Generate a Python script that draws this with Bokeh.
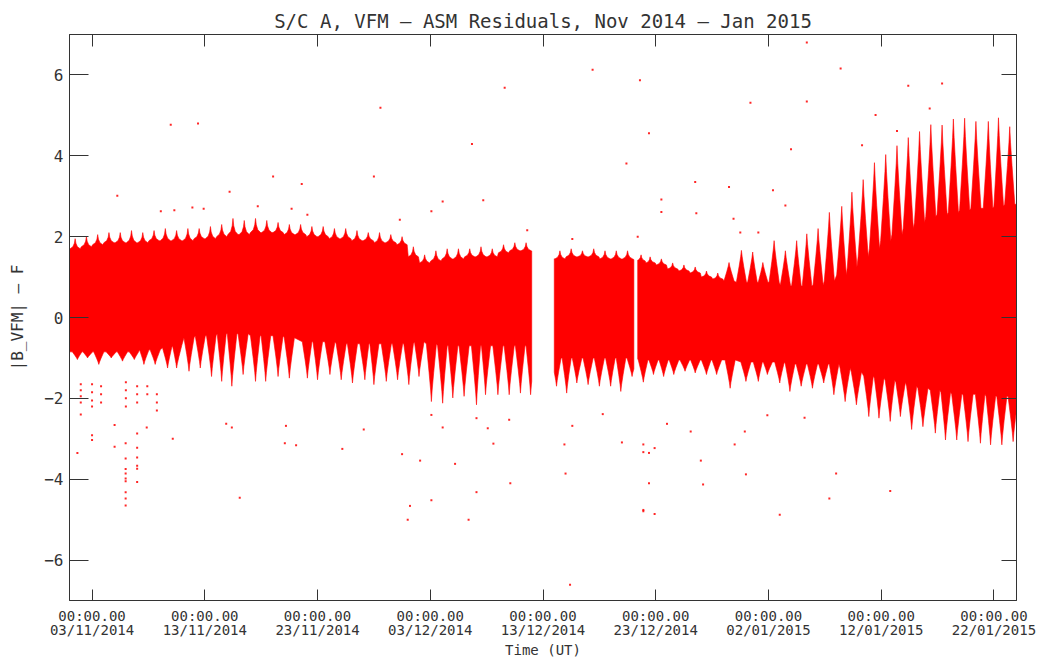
import numpy as np
from datetime import datetime, timezone
from bokeh.plotting import figure
from bokeh.models import FixedTicker, DatetimeAxis, LinearAxis, Range1d
from bokeh.embed import file_html
from bokeh.resources import INLINE

# ---------------- data (days since 01/11/2014 00:00 UT) ----------------
START = datetime(2014, 11, 1, tzinfo=timezone.utc)
END = datetime(2015, 1, 24, tzinfo=timezone.utc)

# contiguous stretches of data (gaps in between)
SEG_START = [0.0, 43.0, 50.4]
SEG_END = [41.0, 50.06, 84.0]

# lower envelope: daily spike times, spike minimum, level between spikes
LOW_T = [0.7, 1.6, 2.6, 3.7, 4.7, 5.75, 6.6, 7.6, 8.7, 9.5, 10.6, 11.6, 12.6, 13.5, 14.4, 15.4, 16.5, 17.4, 18.5, 19.5,
         21.1, 22.0, 23.1, 24.1, 25.1, 26.2, 27.0, 28.1, 29.1, 30.1, 31.0, 32.1, 33.1, 34.0, 35.0, 36.1, 36.9, 38.0, 39.0, 40.0, 40.9,
         43.2, 44.1, 45.0, 46.0, 47.0, 48.0, 48.9, 49.9, 50.9, 51.8, 52.7, 53.6, 54.6, 55.5, 56.5, 57.4, 58.6, 60.0, 61.1, 61.9, 63.0,
         63.9, 64.9, 65.9, 66.9, 67.8, 68.8, 69.8, 70.9, 71.8, 72.8, 73.7, 74.7, 75.7, 76.8, 77.7, 78.7, 79.7, 80.8, 81.7, 82.7, 83.7]
LOW_TIP = [-1.04, -1.0, -1.16, -1.0, -1.08, -1.04, -1.16, -1.16, -1.25, -1.25, -1.33, -1.25, -1.46, -1.58, -1.70, -1.41, -1.58, -1.58, -1.46, -1.5,
           -1.5, -1.54, -1.41, -1.54, -1.62, -1.54, -1.66, -1.58, -1.54, -1.66, -1.46, -2.08, -2.12, -1.99, -1.95, -2.16, -1.91, -1.91, -1.91, -1.87, -1.91,
           -1.70, -1.87, -1.62, -1.66, -1.70, -1.70, -1.83, -1.46, -1.6, -1.41, -1.46, -1.41, -1.33, -1.37, -1.41, -1.41, -1.75, -1.58, -1.58, -1.41, -1.62,
           -1.83, -1.70, -1.75, -1.62, -1.91, -2.08, -2.16, -2.45, -2.49, -2.57, -2.45, -2.77, -2.7, -2.86, -3.03, -3.03, -3.07, -3.11, -3.15, -3.15, -3.07]
LOW_BASE = [-0.85, -0.85, -0.85, -0.85, -0.85, -0.85, -0.8, -0.8, -0.75, -0.7, -0.5, -0.45, -0.45, -0.4, -0.4, -0.4, -0.45, -0.45, -0.45, -0.5,
            -0.6, -0.6, -0.6, -0.65, -0.65, -0.65, -0.65, -0.65, -0.65, -0.65, -0.6, -0.65, -0.7, -0.7, -0.7, -0.7, -0.7, -0.7, -0.7, -0.7, -0.7,
            -1.0, -1.0, -1.0, -1.0, -1.0, -1.0, -1.0, -1.0, -1.05, -1.05, -1.05, -1.05, -1.05, -1.05, -1.05, -1.05, -1.05, -1.1, -1.1, -1.1, -1.1,
            -1.15, -1.15, -1.15, -1.15, -1.15, -1.25, -1.35, -1.45, -1.5, -1.55, -1.6, -1.7, -1.75, -1.8, -1.85, -1.9, -1.9, -1.9, -1.95, -1.95, -1.95]

# upper envelope: spike times, spike maximum, level between spikes
UP_T = [0.5, 1.5, 2.5, 3.5, 4.5, 5.5, 6.5, 7.5, 8.5, 9.5, 10.5, 11.5, 12.5, 13.5, 14.5, 15.5, 16.5, 17.5, 18.5, 19.5,
        20.5, 21.5, 22.5, 23.5, 24.5, 25.5, 26.5, 27.5, 28.5, 29.5, 30.5, 31.5, 32.5, 33.5, 34.5, 35.5, 36.5, 37.5, 38.5, 39.5, 40.5,
        43.5, 44.5, 45.5, 46.5, 47.5, 48.5, 49.5, 50.7, 51.5, 52.5, 53.5, 54.5, 55.5, 56.5, 57.5,
        58.5, 59.6, 60.6, 61.5, 62.5, 63.5, 64.5, 65.4, 66.4, 67.4, 68.5, 69.4, 70.4, 71.4, 72.4, 73.4, 74.4, 75.4,
        76.4, 77.4, 78.4, 79.4, 80.4, 81.5, 82.4, 83.4]
UP_TIP = [1.95, 2.0, 2.05, 2.1, 2.1, 2.15, 2.1, 2.15, 2.2, 2.15, 2.2, 2.2, 2.25, 2.3, 2.45, 2.4, 2.45, 2.4, 2.35, 2.3,
          2.3, 2.25, 2.25, 2.2, 2.2, 2.15, 2.1, 2.1, 2.05, 2.0, 1.75, 1.55, 1.65, 1.7, 1.7, 1.7, 1.75, 1.7, 1.8, 1.85, 1.85,
          1.65, 1.7, 1.65, 1.7, 1.65, 1.65, 1.65, 1.55, 1.5, 1.45, 1.35, 1.3, 1.25, 1.15, 1.1,
          1.36, 1.66, 1.62, 1.36, 1.9, 1.65, 1.9, 2.07, 2.2, 2.6, 2.75, 3.1, 3.41, 3.83, 4.03, 4.25, 4.45, 4.6,
          4.77, 4.76, 4.91, 4.93, 4.85, 4.85, 4.94, 4.72]
UP_BASE = [1.7, 1.75, 1.8, 1.85, 1.85, 1.85, 1.85, 1.9, 1.9, 1.9, 1.9, 1.95, 1.95, 2.0, 2.05, 2.05, 2.1, 2.1, 2.1, 2.05,
           2.05, 2.0, 2.0, 1.95, 1.95, 1.9, 1.9, 1.85, 1.85, 1.8, 1.5, 1.35, 1.4, 1.45, 1.45, 1.5, 1.5, 1.5, 1.6, 1.65, 1.65,
           1.45, 1.5, 1.5, 1.5, 1.45, 1.45, 1.45, 1.4, 1.35, 1.3, 1.2, 1.15, 1.1, 1.0, 0.95,
           0.9, 0.87, 0.87, 0.87, 0.87, 0.8, 0.78, 0.78, 0.8, 0.9, 1.05, 1.25, 1.5, 1.7, 1.9, 2.05, 2.2, 2.35,
           2.5, 2.55, 2.6, 2.65, 2.7, 2.7, 2.75, 2.8]

# isolated samples away from the band
OUT_T = [8.98, 11.4, 27.58, 38.6, 35.7, 18.06, 27.0, 20.6, 14.2, 4.24, 33.1, 36.7, 32.1, 8.1, 9.3, 10.9, 11.9, 16.7, 19.7, 21.1, 29.3, 40.6,
         65.4, 46.4, 68.4, 50.6, 74.4, 77.4, 60.4, 65.4, 76.3, 51.4, 71.5, 64.0, 49.4, 55.5, 58.5, 52.5, 52.5, 55.6, 62.4, 63.5, 73.4, 70.3,
         44.6, 50.4, 58.9, 59.5, 61.1,
         4.98, 4.98, 4.98, 4.98, 4.98, 4.98, 4.98, 4.98, 4.98, 6.0, 6.0, 6.0, 6.0, 6.0, 6.0,
         0.7, 2.0, 2.0, 4.0, 4.0, 6.85, 9.16, 15.1, 13.9, 14.4, 19.2, 19.1, 20.1, 24.2, 29.5, 31.1, 34.2, 30.2, 30.0, 32.1,
         36.1, 35.4, 39.1, 37.6, 37.1, 26.1, 39.0, 36.1, 33.1, 32.1,
         44.4, 44.0, 43.9, 51.4, 50.9, 50.9, 51.9, 50.9, 50.9, 51.4, 51.9, 56.2, 56.0, 60.0, 63.0, 67.4, 68.0, 72.8, 49.0, 59.0,
         55.1, 59.9, 44.6, 53.0, 47.3, 61.9, 65.2,
         1.0, 1.0, 1.0, 1.0, 1.0, 2.0, 2.0, 2.0, 2.0, 2.8, 2.8, 2.8, 5.0, 5.0, 5.0, 5.0, 6.0, 6.0, 6.0, 6.9, 6.9, 7.75, 7.75, 7.75]
OUT_V = [4.77, 4.80, 5.19, 5.68, 4.29, 3.49, 3.49, 3.30, 3.11, 3.01, 2.87, 2.90, 2.63, 2.63, 2.65, 2.72, 2.69, 2.75, 2.69, 2.54, 2.42, 2.16,
         6.80, 6.13, 6.16, 5.87, 5.73, 5.79, 5.31, 5.34, 5.17, 4.56, 5.01, 4.16, 3.81, 3.35, 3.23, 2.92, 2.61, 2.58, 3.15, 2.77, 4.61, 4.26,
         1.94, 2.0, 2.44, 2.1, 2.1,
         -3.11, -3.49, -3.75, -3.86, -3.98, -4.05, -4.32, -4.48, -4.65, -2.87, -3.22, -3.46, -3.67, -3.74, -4.07,
         -3.35, -2.91, -3.03, -2.66, -3.2, -2.72, -3.0, -4.46, -2.63, -2.72, -2.68, -3.11, -3.16, -3.25, -3.38, -3.54, -3.62, -4.66, -5.0, -4.52,
         -4.32, -5.0, -4.1, -3.12, -2.74, -2.77, -2.53, -2.49, -2.72, -2.41,
         -6.61, -3.86, -3.14, -4.10, -4.76, -4.79, -4.86, -3.14, -3.33, -3.35, -3.23, -4.13, -3.54, -3.88, -4.88, -4.48, -3.86, -4.29, -3.09, -3.14,
         -2.82, -2.82, -2.68, -2.63, -2.39, -2.42, -2.48,
         -1.65, -1.8, -1.95, -2.1, -2.4, -1.65, -1.85, -2.05, -2.2, -1.7, -1.9, -2.1, -1.6, -1.8, -2.0, -2.2, -1.7, -1.9, -2.1, -1.7, -1.9, -1.9, -2.1, -2.3]

# axis ticks
X_TICK_DATES = ["03/11/2014", "13/11/2014", "23/11/2014", "03/12/2014", "13/12/2014",
                "23/12/2014", "02/01/2015", "12/01/2015", "22/01/2015"]
X_TICK_TIME = "00:00.00"
Y_TICKS = [-6, -4, -2, 0, 2, 4, 6]
Y_TICK_LABELS = ["\u22126", "\u22124", "\u22122", "0", "2", "4", "6"]

TITLE = "S/C A, VFM \u2013 ASM Residuals, Nov 2014 \u2013 Jan 2015"
Y_LABEL = "|B_VFM| \u2013 F"
X_LABEL = "Time (UT)"

# ---------------- helpers ----------------
DAY_MS = 86400000.0
START_MS = START.timestamp() * 1000.0
END_MS = END.timestamp() * 1000.0
NEEDLE_BEFORE = 58.0   # upper edge is needle-like before this day


def to_ms(days):
    return START_MS + np.asarray(days, dtype=float) * DAY_MS


def envelope(ts, tips, bases, needle_before=-1.0):
    ts = np.asarray(ts, float)
    offs = [-1.0, -0.45, -0.15, 0.0, 0.15, 0.45, 1.0]
    wedge = [0.0, 0.5, 0.8, 1.0, 0.8, 0.5, 0.0]
    needle = [0.0, 0.2, 0.55, 1.0, 0.55, 0.2, 0.0]
    X, Y = [], []
    n = len(ts)
    for i in range(n):
        gl = ts[i] - ts[i - 1] if i > 0 else 1.0
        gr = ts[i + 1] - ts[i] if i < n - 1 else 1.0
        wl = 0.45 * min(1.0, gl)
        wr = 0.45 * min(1.0, gr)
        depth = needle if ts[i] < needle_before else wedge
        for o, d in zip(offs, depth):
            w = wl if o < 0 else wr
            X.append(ts[i] + o * w)
            Y.append(bases[i] + d * (tips[i] - bases[i]))
    return np.array(X), np.array(Y)


UX, UY = envelope(UP_T, UP_TIP, UP_BASE, NEEDLE_BEFORE)
LX, LY = envelope(LOW_T, LOW_TIP, LOW_BASE)

band_xs, band_ys = [], []
for s, e in zip(SEG_START, SEG_END):
    ux = np.concatenate([[s], UX[(UX > s) & (UX < e)], [e]])
    lx = np.concatenate([[s], LX[(LX > s) & (LX < e)], [e]])
    uy = np.interp(ux, UX, UY)
    ly = np.interp(lx, LX, LY)
    band_xs.append(to_ms(np.concatenate([ux, lx[::-1]])))
    band_ys.append(np.concatenate([uy, ly[::-1]]))

# ---------------- figure ----------------
FONT = "DejaVu Sans Mono"
INK = "#333333"
AX = "#333333"

p = figure(width=1055, height=660, x_axis_type="datetime",
           x_range=Range1d(START_MS, END_MS), y_range=Range1d(-7, 7),
           output_backend="svg", toolbar_location=None,
           min_border_left=69, min_border_right=39, min_border_top=34, min_border_bottom=60)
p.grid.visible = False
p.background_fill_color = "white"
p.border_fill_color = "white"
p.outline_line_color = AX

p.title.text = TITLE
p.title.text_font = FONT
p.title.text_font_size = "19px"
p.title.text_font_style = "normal"
p.title.text_color = INK
p.title.align = "center"
p.title.standoff = 6

p.patches(band_xs, band_ys, fill_color="#ff0000", line_color="#ff0000", line_width=0.6)
p.scatter(to_ms(OUT_T), OUT_V, marker="square", size=2, fill_color="#ff0000",
          line_color=None, fill_alpha=0.85)

tick_ms = [int(round(datetime.strptime(d, "%d/%m/%Y").replace(tzinfo=timezone.utc).timestamp() * 1000))
           for d in X_TICK_DATES]
x_over = {t: X_TICK_TIME + "\n" + d for t, d in zip(tick_ms, X_TICK_DATES)}
y_over = {t: l for t, l in zip(Y_TICKS, Y_TICK_LABELS)}


def style_axis(ax, tick_in):
    ax.axis_line_color = AX
    ax.major_tick_line_color = AX
    ax.minor_tick_line_color = None
    ax.major_tick_in = tick_in
    ax.major_tick_out = 0
    ax.major_label_text_font = FONT
    ax.major_label_text_color = INK
    ax.axis_label_text_font = FONT
    ax.axis_label_text_color = INK
    ax.axis_label_text_font_style = "normal"


xa = p.xaxis[0]
xa.ticker = FixedTicker(ticks=tick_ms)
xa.major_label_overrides = x_over
style_axis(xa, 11)
xa.major_label_text_font_size = "14px"
xa.major_label_text_line_height = 0.9
xa.major_label_standoff = 7
xa.axis_label = X_LABEL
xa.axis_label_text_font_size = "14px"
xa.axis_label_standoff = 1

ya = p.yaxis[0]
ya.ticker = FixedTicker(ticks=Y_TICKS)
ya.major_label_overrides = y_over
style_axis(ya, 19)
ya.major_label_text_font_size = "16px"
ya.major_label_standoff = 6
ya.axis_label = Y_LABEL
ya.axis_label_text_font_size = "16px"
ya.axis_label_standoff = 14

top = DatetimeAxis(ticker=FixedTicker(ticks=tick_ms))
style_axis(top, 12)
top.major_label_text_color = None
top.major_label_standoff = 0
p.add_layout(top, "above")

right = LinearAxis(ticker=FixedTicker(ticks=Y_TICKS))
style_axis(right, 15)
right.major_label_text_color = None
right.major_label_standoff = 0
p.add_layout(right, "right")

open("out.html", "w").write(file_html(p, INLINE))
